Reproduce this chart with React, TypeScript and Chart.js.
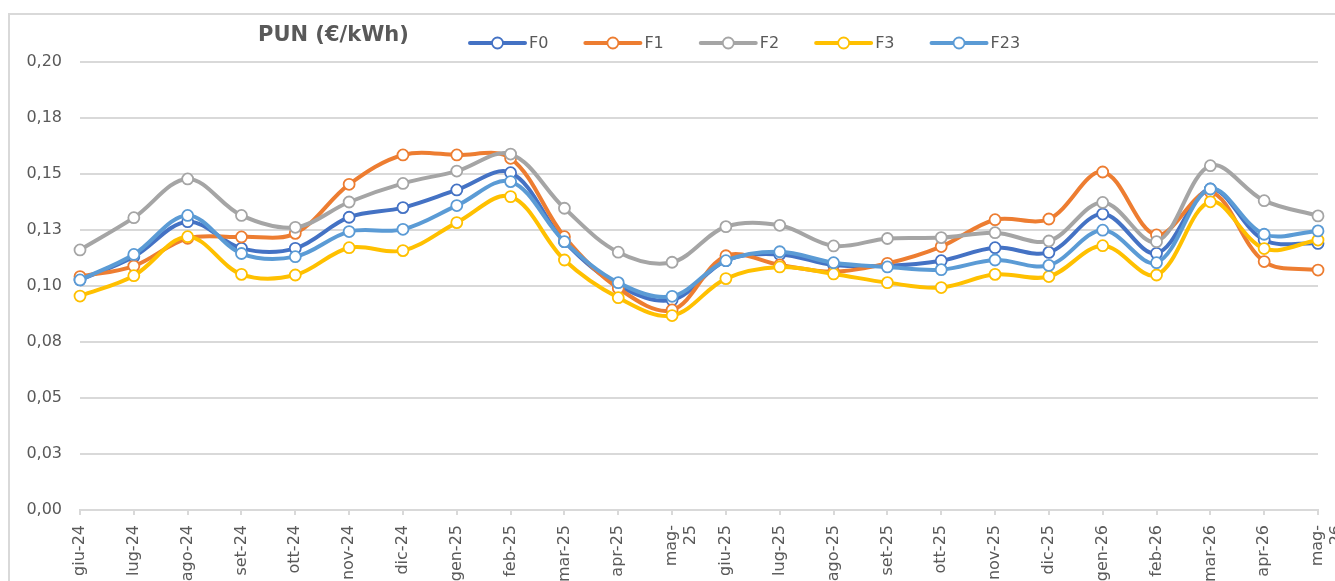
import React, { useEffect, useRef } from 'react';
import { Chart, registerables } from 'chart.js';

Chart.register(...registerables);

const categories: (string | string[])[] = [
  'giu-24', 'lug-24', 'ago-24', 'set-24', 'ott-24', 'nov-24', 'dic-24', 'gen-25',
  'feb-25', 'mar-25', 'apr-25', ['mag-', '25'], 'giu-25', 'lug-25', 'ago-25', 'set-25',
  'ott-25', 'nov-25', 'dic-25', 'gen-26', 'feb-26', 'mar-26', 'apr-26', ['mag-', '26'],
];

const f0 = [0.1027, 0.1131, 0.1287, 0.1168, 0.1168, 0.1307, 0.1350, 0.1429, 0.1506, 0.1198, 0.1002, 0.0938,
  0.1113, 0.1141, 0.1094, 0.1090, 0.1113, 0.1171, 0.1150, 0.1321, 0.1146, 0.1433, 0.1205, 0.1190];
const f1 = [0.1042, 0.1089, 0.1213, 0.1219, 0.1235, 0.1454, 0.1585, 0.1585, 0.1570, 0.1220, 0.0990, 0.0893,
  0.1135, 0.1094, 0.1064, 0.1101, 0.1176, 0.1296, 0.1299, 0.1509, 0.1228, 0.1420, 0.1109, 0.1071];
const f2 = [0.1161, 0.1305, 0.1478, 0.1315, 0.1262, 0.1375, 0.1458, 0.1513, 0.1589, 0.1347, 0.1151, 0.1106,
  0.1265, 0.1271, 0.1179, 0.1212, 0.1216, 0.1238, 0.1201, 0.1373, 0.1198, 0.1537, 0.1381, 0.1313];
const f3 = [0.0955, 0.1046, 0.1220, 0.1052, 0.1049, 0.1171, 0.1158, 0.1283, 0.1399, 0.1116, 0.0948, 0.0868,
  0.1033, 0.1085, 0.1054, 0.1015, 0.0993, 0.1052, 0.1042, 0.1180, 0.1049, 0.1376, 0.1167, 0.1205];
const f23 = [0.1027, 0.1141, 0.1315, 0.1145, 0.1131, 0.1243, 0.1253, 0.1359, 0.1466, 0.1198, 0.1015, 0.0954,
  0.1113, 0.1153, 0.1104, 0.1085, 0.1073, 0.1116, 0.1092, 0.1249, 0.1104, 0.1433, 0.1231, 0.1246];

const seriesNames = ['F0', 'F1', 'F2', 'F3', 'F23'];
const seriesData = [f0, f1, f2, f3, f23];
const seriesColors = ['#4472C4', '#ED7D31', '#A5A5A5', '#FFC000', '#5B9BD5'];

const yTickLabels = ['0,00', '0,03', '0,05', '0,08', '0,10', '0,13', '0,15', '0,18', '0,20'];
const yMin = 0;
const yMax = 0.2;
const yStep = 0.025;

const titleText = 'PUN (€/kWh)';
const FONT = 'DejaVu Sans';
const TEXT_COLOR = '#595959';
const GRID_COLOR = '#d9d9d9';

const headerPlugin = {
  id: 'header',
  afterDraw(chart: any) {
    const ctx = chart.ctx as CanvasRenderingContext2D;
    ctx.save();
    ctx.fillStyle = TEXT_COLOR;
    ctx.textBaseline = 'middle';
    ctx.textAlign = 'left';
    ctx.font = `bold 21px "${FONT}"`;
    ctx.fillText(titleText, 258, 36);

    ctx.font = `16px "${FONT}"`;
    let x = 470;
    const y = 43;
    chart.data.datasets.forEach((ds: any) => {
      ctx.strokeStyle = ds.borderColor;
      ctx.lineWidth = 4;
      ctx.lineCap = 'round';
      ctx.beginPath();
      ctx.moveTo(x, y);
      ctx.lineTo(x + 55, y);
      ctx.stroke();
      ctx.beginPath();
      ctx.arc(x + 27.5, y, 5.5, 0, Math.PI * 2);
      ctx.fillStyle = '#ffffff';
      ctx.fill();
      ctx.lineWidth = 1.8;
      ctx.stroke();
      ctx.fillStyle = TEXT_COLOR;
      ctx.fillText(ds.label, x + 59, y + 1);
      const w = ctx.measureText(ds.label).width;
      x += 59 + w + 37;
    });
    ctx.restore();
  },
};

export default function App() {
  const canvasRef = useRef<HTMLCanvasElement | null>(null);

  useEffect(() => {
    const canvas = canvasRef.current;
    if (!canvas) return;
    const chart = new Chart(canvas, {
      type: 'line',
      data: {
        labels: categories,
        datasets: seriesNames.map((name, i) => ({
          label: name,
          data: seriesData[i],
          borderColor: seriesColors[i],
          backgroundColor: seriesColors[i],
          borderWidth: 4,
          tension: 0.35,
          pointRadius: 5.5,
          pointBorderWidth: 1.8,
          pointBackgroundColor: '#ffffff',
          pointBorderColor: seriesColors[i],
          order: seriesNames.length - 1 - i,
          fill: false,
        })),
      },
      options: {
        animation: false,
        responsive: false,
        devicePixelRatio: 1,
        layout: { padding: { left: 0, right: 17, top: 62, bottom: 0 } },
        plugins: {
          legend: { display: false },
          title: { display: false },
          tooltip: { enabled: false },
        },
        scales: {
          x: {
            type: 'category',
            offset: false,
            grid: {
              display: true,
              drawOnChartArea: false,
              drawTicks: true,
              tickLength: 5,
              color: GRID_COLOR,
              lineWidth: 2,
            },
            border: { display: true, color: GRID_COLOR, width: 2 },
            ticks: {
              autoSkip: false,
              maxRotation: 90,
              minRotation: 90,
              padding: 10,
              color: TEXT_COLOR,
              font: { family: FONT, size: 16 },
            },
            afterFit: (s: any) => {
              s.height = 71;
              s.paddingLeft = 0;
              s.paddingRight = 0;
            },
          },
          y: {
            min: yMin,
            max: yMax,
            grid: { color: GRID_COLOR, lineWidth: 2, drawTicks: false },
            border: { display: false },
            ticks: {
              stepSize: yStep,
              padding: 18,
              color: TEXT_COLOR,
              font: { family: FONT, size: 16 },
              callback: (_v: any, idx: number) => yTickLabels[idx],
            },
            afterFit: (s: any) => {
              s.width = 80;
              s.paddingTop = 0;
              s.paddingBottom = 0;
            },
          },
        },
      },
      plugins: [headerPlugin],
    } as any);
    return () => chart.destroy();
  }, []);

  return (
    <div style={{ position: 'fixed', left: 0, top: 0, width: 1335, height: 581, overflow: 'hidden', background: '#ffffff' }}>
      <div
        style={{
          position: 'absolute',
          left: 8,
          top: 13,
          width: 1400,
          height: 700,
          borderLeft: `2px solid ${GRID_COLOR}`,
          borderTop: `2px solid ${GRID_COLOR}`,
        }}
      />
      <canvas ref={canvasRef} width={1335} height={581} style={{ position: 'absolute', left: 0, top: 0, display: 'block' }} />
    </div>
  );
}
